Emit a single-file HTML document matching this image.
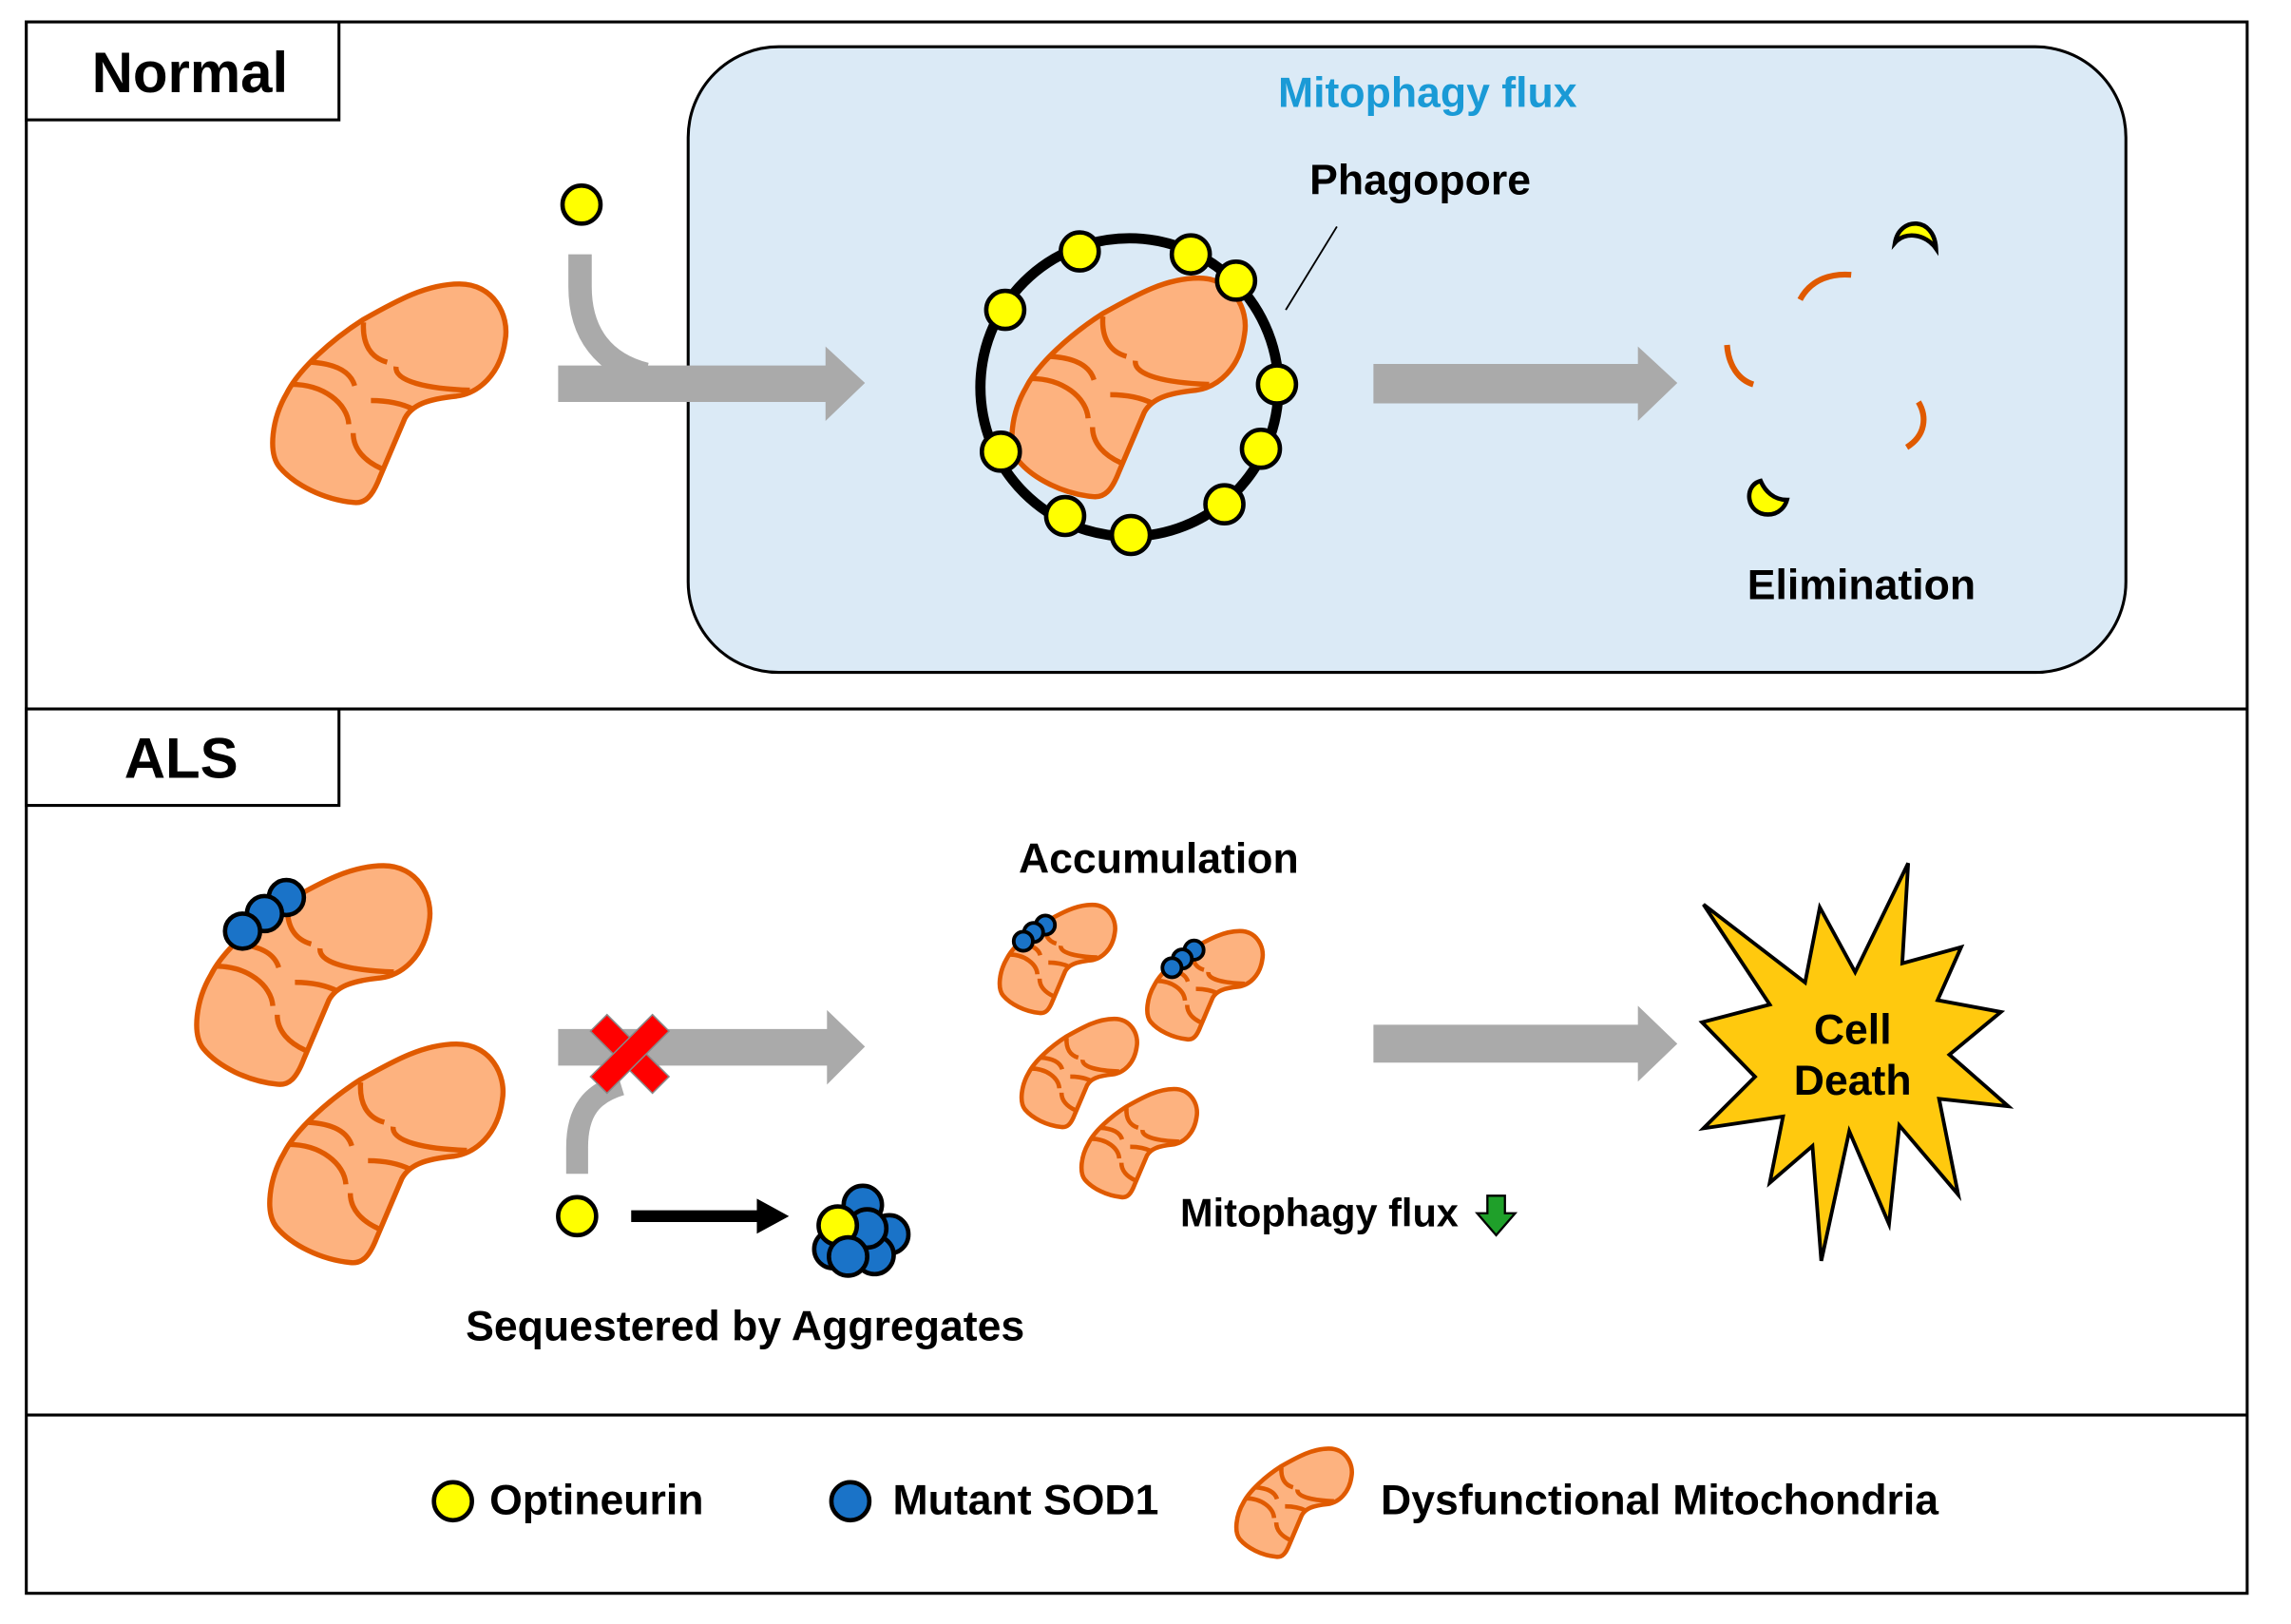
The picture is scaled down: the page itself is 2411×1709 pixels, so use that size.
<!DOCTYPE html>
<html><head><meta charset="utf-8"><style>
html,body{margin:0;padding:0;background:#fff}
svg{display:block}
text{font-family:"Liberation Sans",Arial,sans-serif;font-weight:bold}
</style></head><body>
<svg width="2411" height="1709" viewBox="0 0 1568 1111" preserveAspectRatio="none" xmlns="http://www.w3.org/2000/svg">
<defs>
<g id="mito">
<path d="M-18,-52 C5,-65 25,-76 47,-76 C70,-76 81,-55 78,-38 C75,-15 60,-2 45,0 C25,2 15,6 10,15 L-7,55 C-12,68 -17,73 -25,72 C-45,70 -65,60 -75,48 C-83,38 -80,15 -70,-2 C-62,-18 -40,-38 -18,-52 Z" fill="#fdb27f" stroke="#e05a00"/>
<g fill="none" stroke="#e05a00">
<path d="M-18,-50 C-19,-35 -13,-26 -2,-23"/>
<path d="M4,-20 C3,-10 25,-5 54,-4"/>
<path d="M-54,-23 C-37,-22 -27,-17 -24,-7"/>
<path d="M-67,-8 C-45,-8 -29,5 -28,19"/>
<path d="M-13,3 C-2,3 8,5 16,9"/>
<path d="M-25,25 C-25,36 -17,44 -6,49"/>
</g>
</g>
</defs>

<rect x="18" y="15" width="1520" height="1075" fill="#fff" stroke="#000" stroke-width="2"/>
<line x1="18" y1="485" x2="1538" y2="485" stroke="#000" stroke-width="2"/>
<line x1="18" y1="968" x2="1538" y2="968" stroke="#000" stroke-width="2"/>
<rect x="18" y="15" width="214" height="67" fill="#fff" stroke="#000" stroke-width="2"/>
<text x="130" y="63" font-size="39" text-anchor="middle">Normal</text>
<rect x="18" y="485" width="214" height="66" fill="#fff" stroke="#000" stroke-width="2"/>
<text x="124" y="532" font-size="39" text-anchor="middle">ALS</text>

<rect x="471" y="32" width="984" height="428" rx="62" fill="#dbeaf6" stroke="#000" stroke-width="2"/>
<text x="977" y="73" font-size="29" fill="#1a9ad6" text-anchor="middle">Mitophagy flux</text>
<text x="972" y="133" font-size="29" text-anchor="middle">Phagopore</text>
<line x1="880" y1="212" x2="915" y2="155" stroke="#000" stroke-width="1.2"/>

<path d="M397,174 L397,196 C397,229 414,249 442,256" fill="none" stroke="#aaa" stroke-width="16"/>
<path d="M382,250 L565,250 L565,237 L592,262 L565,288 L565,275 L382,275 Z" fill="#aaa"/>
<path d="M940,249 L1121,249 L1121,237 L1148,262 L1121,288 L1121,276 L940,276 Z" fill="#aaa"/>
<circle cx="398" cy="140" r="13" fill="#ff0" stroke="#000" stroke-width="3"/>
<use href="#mito" transform="translate(267,271) scale(1.01)" stroke-width="3.5"/>

<use href="#mito" transform="translate(773,267) scale(1.01)" stroke-width="3.5"/>
<circle cx="773" cy="265" r="102" fill="none" stroke="#000" stroke-width="7"/>
<g fill="#ff0" stroke="#000" stroke-width="3">
<circle cx="739" cy="172" r="13"/><circle cx="815" cy="174" r="13"/><circle cx="846" cy="192" r="13"/>
<circle cx="688" cy="212" r="13"/><circle cx="874" cy="263" r="13"/><circle cx="863" cy="307" r="13"/>
<circle cx="685" cy="309" r="13"/><circle cx="838" cy="345" r="13"/><circle cx="729" cy="353" r="13"/>
<circle cx="774" cy="366" r="13"/>
</g>

<g fill="none" stroke="#e05a00" stroke-width="4">
<path d="M1232,205 C1240,190 1255,187 1267,188"/>
<path d="M1182,236 C1183,250 1190,260 1200,263"/>
<path d="M1313,275 C1319,285 1318,298 1305,306"/>
</g>
<path d="M1297,166 C1300,148 1324,148 1325,170 C1318,160 1304,158 1297,166 Z" fill="#ff0" stroke="#000" stroke-width="3"/>
<path d="M1205,329 C1193,332 1195,352 1210,352 C1218,352 1222,346 1223,342 C1214,342 1208,336 1205,329 Z" fill="#ff0" stroke="#000" stroke-width="3"/>
<text x="1274" y="410" font-size="29" text-anchor="middle">Elimination</text>

<use href="#mito" transform="translate(215,669) scale(1.01)" stroke-width="3.5"/>
<g fill="#1a73c8" stroke="#000" stroke-width="3">
<circle cx="196" cy="614" r="12"/><circle cx="181" cy="625" r="12"/><circle cx="166" cy="637" r="12"/>
</g>
<use href="#mito" transform="translate(265,791) scale(1.01)" stroke-width="3.5"/>

<path d="M395,803 L395,785 C395,760 405,748 425,742" fill="none" stroke="#aaa" stroke-width="15"/>
<path d="M382,704 L566,704 L566,691 L592,716 L566,742 L566,729 L382,729 Z" fill="#aaa"/>
<g transform="translate(431,721) rotate(45)">
<rect x="-30" y="-8" width="60" height="16" fill="#f00" stroke="#888" stroke-width="1"/>
<rect x="-8" y="-30" width="16" height="60" fill="#f00" stroke="#888" stroke-width="1"/>
<rect x="-7" y="-7" width="14" height="14" fill="#f00"/>
</g>
<path d="M940,701 L1121,701 L1121,688 L1148,714 L1121,740 L1121,727 L940,727 Z" fill="#aaa"/>

<circle cx="395" cy="832" r="13" fill="#ff0" stroke="#000" stroke-width="3"/>
<path d="M432,828 L518,828 L518,820 L540,832 L518,844 L518,836 L432,836 Z" fill="#000"/>
<g stroke="#000" stroke-width="3" fill="#1a73c8" transform="scale(1.0077)">
<circle cx="586" cy="818" r="13"/><circle cx="604" cy="838" r="13"/><circle cx="594" cy="852" r="13"/>
<circle cx="566" cy="848" r="13"/><circle cx="589" cy="834" r="13"/>
<circle cx="569" cy="832" r="13" fill="#ff0"/><circle cx="576" cy="853" r="13"/>
</g>
<text x="510" y="917" font-size="29" text-anchor="middle">Sequestered by Aggregates</text>

<text x="793" y="597" font-size="29" text-anchor="middle">Accumulation</text>
<use href="#mito" transform="translate(724,657) scale(0.5)" stroke-width="6"/>
<use href="#mito" transform="translate(825,675) scale(0.5)" stroke-width="6"/>
<use href="#mito" transform="translate(739,735) scale(0.5)" stroke-width="6"/>
<use href="#mito" transform="translate(780,783) scale(0.5)" stroke-width="6"/>
<g fill="#1a73c8" stroke="#000" stroke-width="2.5" transform="scale(1.0077)">
<circle cx="710" cy="628" r="6.5"/><circle cx="702" cy="633" r="6.5"/><circle cx="695" cy="639" r="6.5"/>
<circle cx="811" cy="645" r="6.5"/><circle cx="803" cy="651" r="6.5"/><circle cx="796" cy="657" r="6.5"/>
</g>
<text x="903" y="839" font-size="27" text-anchor="middle">Mitophagy flux</text>
<path d="M1018,818 L1030,818 L1030,830 L1037,830 L1024,845 L1011,830 L1018,830 Z" fill="#1fa02a" stroke="#000" stroke-width="1.5"/>

<polygon transform="scale(1.0077)" points="1157,614 1226,667 1236,616 1260,660 1296,586 1292,654 1332,643 1316,679 1359,687 1324,716 1364,751 1317,746 1330,811 1290,764 1283,831 1256,768 1237,856 1231,778 1202,803 1211,758 1157,766 1192,731 1156,694 1202,682" fill="#ffc90e" stroke="#000" stroke-width="2.5"/>
<text x="1268" y="714" font-size="29" text-anchor="middle">Cell</text>
<text x="1268" y="749" font-size="29" text-anchor="middle">Death</text>

<circle cx="310" cy="1027" r="13" fill="#ff0" stroke="#000" stroke-width="3"/>
<text x="335" y="1036" font-size="29">Optineurin</text>
<circle cx="582" cy="1027" r="13" fill="#1a73c8" stroke="#000" stroke-width="3"/>
<text x="611" y="1036" font-size="29">Mutant SOD1</text>
<use href="#mito" transform="translate(886,1029) scale(0.5)" stroke-width="6"/>
<text x="945" y="1036" font-size="29">Dysfunctional Mitochondria</text>
</svg>
</body></html>
